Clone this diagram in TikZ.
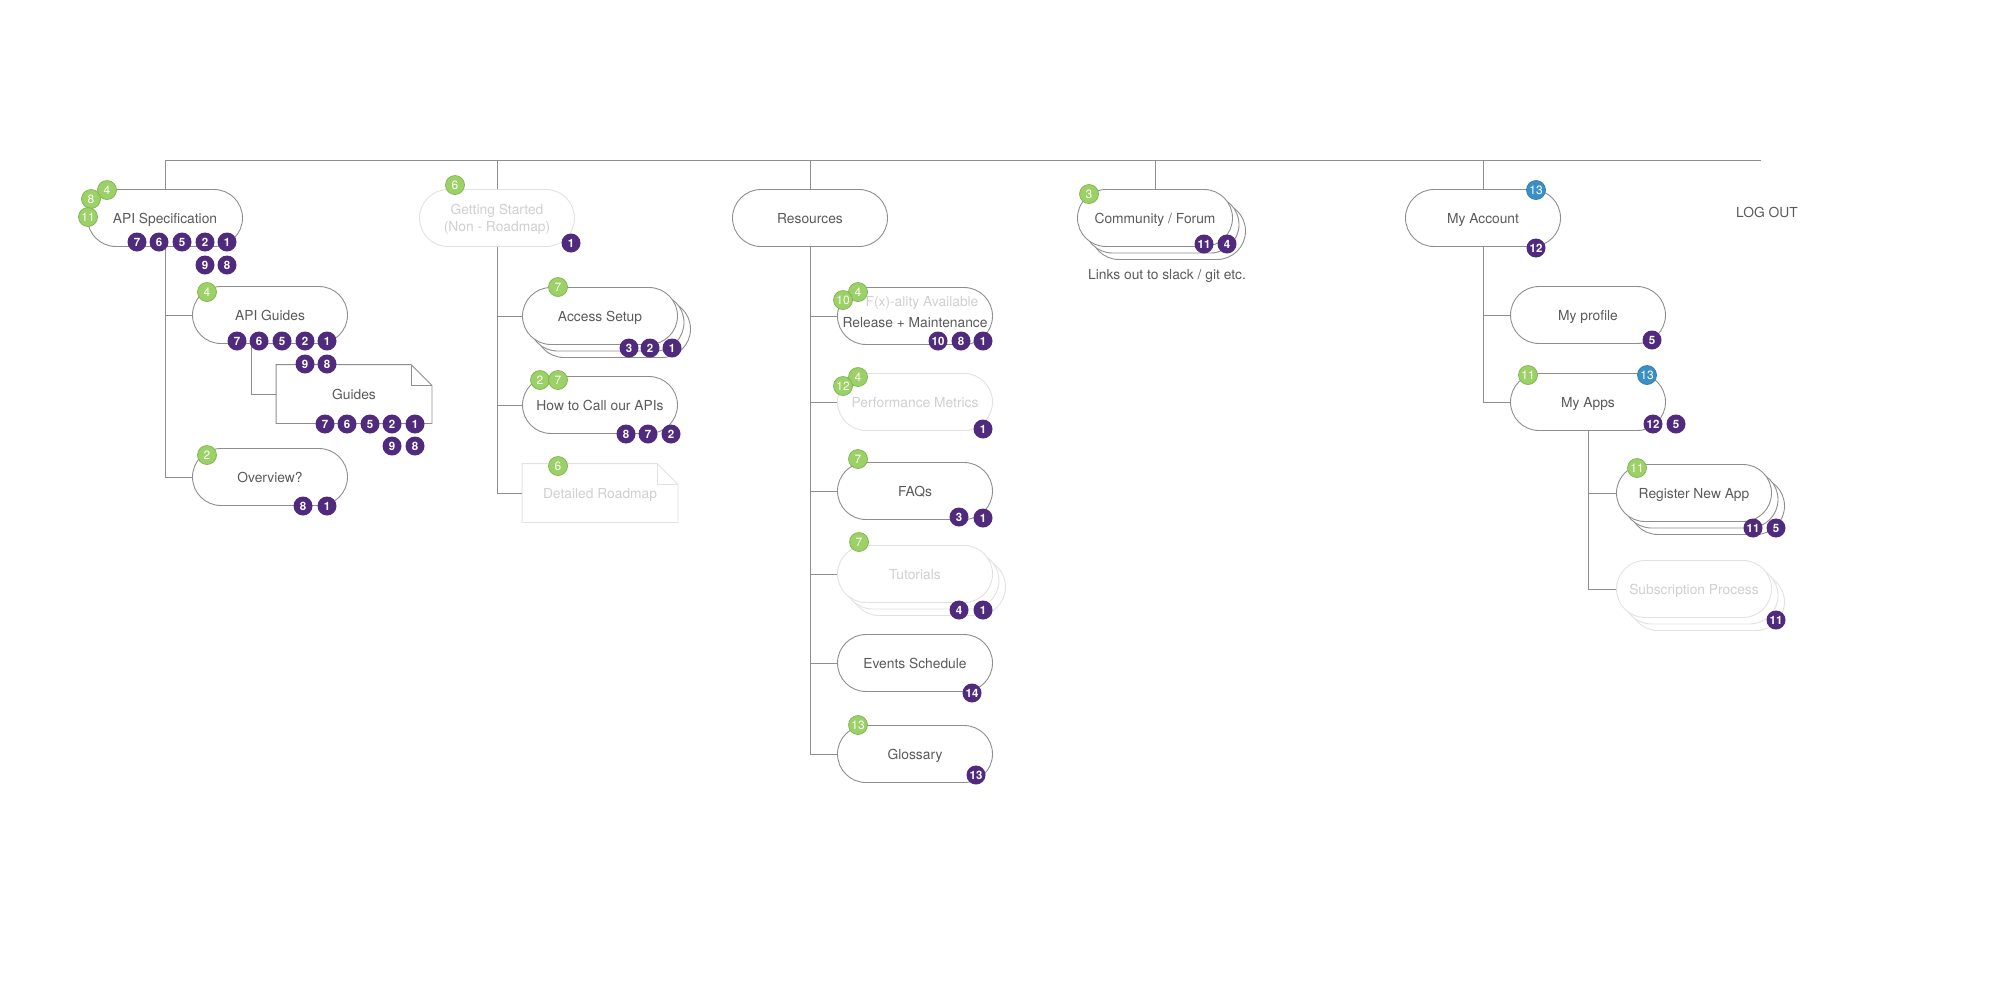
\documentclass[tikz,border=0pt]{standalone}
\usepackage{fontspec}
\setmainfont{TeX Gyre Heros}
\usepackage{xcolor}
\usepackage{tikz}
\usetikzlibrary{positioning,calc}

\definecolor{linegray}{HTML}{8E8E8E}
\definecolor{textgray}{HTML}{5A5A5A}
\definecolor{fadegray}{HTML}{E2E2E2}
\definecolor{fadetext}{HTML}{D0D0D0}
\definecolor{badgepurple}{HTML}{4F2A7D}
\definecolor{badgegreen}{HTML}{9BD166}
\definecolor{badgeedge}{HTML}{7FB24E}
\definecolor{badgeblue}{HTML}{3A90C6}

\begin{document}
\begin{tikzpicture}[x=1pt, y=-1pt, line width=0.9pt,
  every node/.style={font=\fontsize{13.8}{17}\selectfont, text=textgray, align=center},
  pill/.style={draw=linegray, fill=white, rounded corners=28.5pt, text depth=0pt,
               minimum width=\bw, minimum height=\bh, inner sep=0pt},
  fadepill/.style={pill, draw=fadegray, text=fadetext},
  doc/.style={minimum width=\bw, minimum height=58pt, inner sep=0pt},
  pbadge/.style={circle, fill=badgepurple, text=white, minimum size=19pt, inner sep=0pt,
                 font=\fontsize{11.5}{11.5}\selectfont\bfseries},
  gbadge/.style={circle, draw=badgeedge, line width=0.7pt, fill=badgegreen, text=white,
                 minimum size=19pt, inner sep=0pt, font=\fontsize{12}{12}\selectfont},
  bbadge/.style={gbadge, draw=badgeblue!85!black, fill=badgeblue}]
  \def\bw{155pt}
  \def\bh{57pt}
  \useasboundingbox (0,0) rectangle (2000,997);

  % top level
  \node[pill] (spec) at (165,218) {API Specification};
  \node[fadepill] (started) at (497,218) {Getting Started\\(Non - Roadmap)};
  \node[pill] (resources) at (810,218) {Resources};
  \node[pill] (community3) at (1168,231) {};
  \node[pill] (community2) at (1161.5,224.5) {};
  \node[pill] (community) at (1155,218) {Community / Forum};
  \node (links) at (1167,276) {Links out to slack / git etc.};
  \node[pill] (account) at (1483,218) {My Account};
  \node (logout) at (1767,212) {LOG OUT};

  % API specification branch
  \node[pill] (apiguides) at (270,315) {API Guides};
  \node[doc] (guides) at (354,394) {};
  \node[pill] (overview) at (270,477) {Overview?};

  % getting started branch
  \node[pill] (access3) at (613,329) {};
  \node[pill] (access2) at (606.5,322.5) {};
  \node[pill] (access) at (600,316) {Access Setup};
  \node[pill] (howto) at (600,405) {How to Call our APIs};
  \node[doc] (roadmap) at (600,493) {};

  % resources branch
  \node[pill] (release) at (915,316) {};
  \node (releasetext) at (915,312)
        {\hspace*{14pt}{\color{fadetext}F(x)-ality Available}\\[4pt]Release + Maintenance};
  \node[fadepill] (perf) at (915,402) {Performance Metrics};
  \node[pill] (faqs) at (915,491) {FAQs};
  \node[fadepill] (tutorials3) at (928,587) {};
  \node[fadepill] (tutorials2) at (921.5,580.5) {};
  \node[fadepill] (tutorials) at (915,574) {Tutorials};
  \node[pill] (events) at (915,663) {Events Schedule};
  \node[pill] (glossary) at (915,754) {Glossary};

  % account branch
  \node[pill] (profile) at (1588,315) {My profile};
  \node[pill] (apps) at (1588,402) {My Apps};
  \node[pill] (register3) at (1707,506) {};
  \node[pill] (register2) at (1700.5,499.5) {};
  \node[pill] (register) at (1694,493) {Register New App};
  \node[fadepill] (subscr3) at (1707,602) {};
  \node[fadepill] (subscr2) at (1700.5,595.5) {};
  \node[fadepill] (subscr) at (1694,589) {Subscription Process};

  % folded sheets
  \draw[linegray, fill=white] (guides.south west) -- (guides.north west)
    -- ([xshift=-21pt]guides.north east) -- ([yshift=-21pt]guides.north east)
    -- (guides.south east) -- cycle;
  \draw[linegray] ([xshift=-21pt]guides.north east) |- ([yshift=-21pt]guides.north east);
  \draw[fadegray, fill=white] (roadmap.south west) -- (roadmap.north west)
    -- ([xshift=-21pt]roadmap.north east) -- ([yshift=-21pt]roadmap.north east)
    -- (roadmap.south east) -- cycle;
  \draw[fadegray] ([xshift=-21pt]roadmap.north east) |- ([yshift=-21pt]roadmap.north east);
  \node[text depth=0pt] (guideslabel) at (guides) {Guides};
  \node[text depth=0pt, text=fadetext] (roadmaplabel) at (roadmap) {Detailed Roadmap};

  % connectors
  \coordinate (topend) at (1761,160);
  \draw[linegray] (spec.north) -- (spec.north |- topend) -- (topend);
  \foreach \n in {started,resources,community,account}
    \draw[linegray] (\n.north) -- (\n.north |- topend);

  \draw[linegray] (spec.south) |- (overview.west);
  \draw[linegray] (spec.south |- apiguides.west) -- (apiguides.west);
  \draw[linegray] ([xshift=-19pt]apiguides.south) |- (guides.west);

  \draw[linegray] (started.south) |- (roadmap.west);
  \foreach \n in {access,howto}
    \draw[linegray] (started.south |- \n.west) -- (\n.west);

  \draw[linegray] (resources.south) |- (glossary.west);
  \foreach \n in {release,perf,faqs,tutorials,events}
    \draw[linegray] (resources.south |- \n.west) -- (\n.west);

  \draw[linegray] (account.south) |- (apps.west);
  \draw[linegray] (account.south |- profile.west) -- (profile.west);
  \draw[linegray] (apps.south) |- (subscr.west);
  \draw[linegray] (apps.south |- register.west) -- (register.west);

  % badges
  \node[gbadge] (spec-g4) at (107,190) {4};
  \node[gbadge] (spec-g8) at (91,199) {8};
  \node[gbadge] (spec-g11) at (88,217) {11};
  \foreach \n/\x in {7/137,6/159,5/182,2/205,1/227}
    \node[pbadge] (spec-p\n) at (\x,242) {\n};
  \foreach \n/\x in {9/205,8/227}
    \node[pbadge] (spec-p\n) at (\x,265) {\n};

  \node[gbadge] (apiguides-g4) at (207,292) {4};
  \foreach \n/\x in {7/237,6/259,5/282,2/305,1/327}
    \node[pbadge] (apiguides-p\n) at (\x,341) {\n};
  \foreach \n/\x in {9/305,8/327}
    \node[pbadge] (apiguides-p\n) at (\x,364) {\n};

  \foreach \n/\x in {7/325,6/347,5/370,2/392,1/415}
    \node[pbadge] (guides-p\n) at (\x,424) {\n};
  \foreach \n/\x in {9/392,8/415}
    \node[pbadge] (guides-p\n) at (\x,446) {\n};

  \node[gbadge] (overview-g2) at (207,455) {2};
  \foreach \n/\x in {8/303,1/327}
    \node[pbadge] (overview-p\n) at (\x,506) {\n};

  \node[gbadge] (started-g6) at (455,185) {6};
  \node[pbadge] (started-p1) at (571,243) {1};

  \node[gbadge] (access-g7) at (558,287) {7};
  \foreach \n/\x in {3/629,2/650,1/672}
    \node[pbadge] (access-p\n) at (\x,348) {\n};

  \node[gbadge] (howto-g2) at (540,380) {2};
  \node[gbadge] (howto-g7) at (558,380) {7};
  \foreach \n/\x in {8/626,7/648,2/671}
    \node[pbadge] (howto-p\n) at (\x,434) {\n};

  \node[gbadge] (roadmap-g6) at (558,466) {6};

  \node[gbadge] (release-g4) at (858,292) {4};
  \node[gbadge] (release-g10) at (843,300) {10};
  \foreach \n/\x in {10/938,8/961,1/983}
    \node[pbadge] (release-p\n) at (\x,341) {\n};

  \node[gbadge] (perf-g4) at (858,377) {4};
  \node[gbadge] (perf-g12) at (843,386) {12};
  \node[pbadge] (perf-p1) at (983,429) {1};

  \node[gbadge] (faqs-g7) at (858,459) {7};
  \node[pbadge] (faqs-p3) at (959,517) {3};
  \node[pbadge] (faqs-p1) at (983,518) {1};

  \node[gbadge] (tutorials-g7) at (859,542) {7};
  \node[pbadge] (tutorials-p4) at (959,610) {4};
  \node[pbadge] (tutorials-p1) at (983,610) {1};

  \node[pbadge] (events-p14) at (972,693) {14};

  \node[gbadge] (glossary-g13) at (858,725) {13};
  \node[pbadge] (glossary-p13) at (976,775) {13};

  \node[gbadge] (community-g3) at (1089,194) {3};
  \node[pbadge] (community-p11) at (1204,244) {11};
  \node[pbadge] (community-p4) at (1227,244) {4};

  \node[bbadge] (account-b13) at (1536,190) {13};
  \node[pbadge] (account-p12) at (1536,248) {12};

  \node[pbadge] (profile-p5) at (1652,340) {5};

  \node[gbadge] (apps-g11) at (1528,375) {11};
  \node[bbadge] (apps-b13) at (1647,375) {13};
  \node[pbadge] (apps-p12) at (1653,424) {12};
  \node[pbadge] (apps-p5) at (1676,424) {5};

  \node[gbadge] (register-g11) at (1637,468) {11};
  \node[pbadge] (register-p11) at (1753,528) {11};
  \node[pbadge] (register-p5) at (1776,528) {5};

  \node[pbadge] (subscr-p11) at (1776,620) {11};
\end{tikzpicture}
\end{document}
